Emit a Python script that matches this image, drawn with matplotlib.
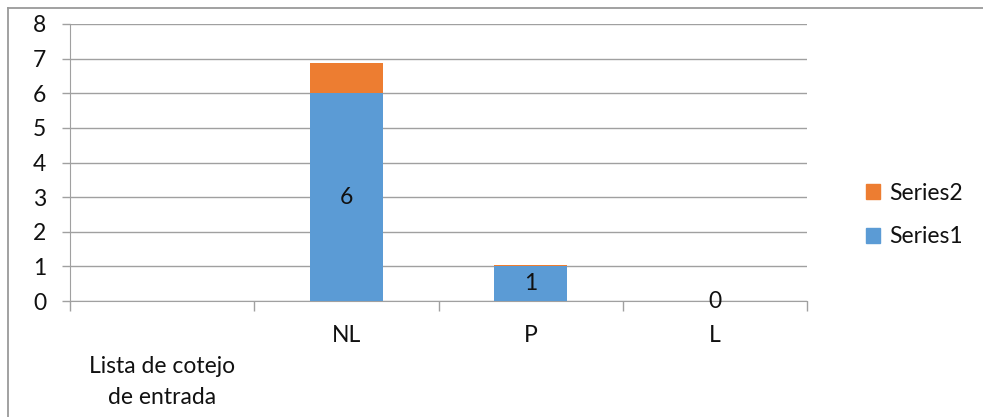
import numpy as np
import matplotlib.pyplot as plt
from matplotlib.lines import Line2D
from matplotlib.patches import Patch

categories = ["\nLista de cotejo\nde entrada", "NL", "P", "L"]
series1 = [np.nan, 6, 1, 0]
series2 = [np.nan, 0.87, 0.03, 0]

blue = "#5B9BD5"
orange = "#ED7D31"
grid_c = "#A0A0A0"
fs = 16.5

plt.rcParams["font.family"] = ["Lato", "DejaVu Sans"]
plt.rcParams["text.color"] = "#111111"
plt.rcParams["xtick.labelcolor"] = "#111111"
plt.rcParams["ytick.labelcolor"] = "#111111"

fig = plt.figure(figsize=(9.83, 4.17), dpi=100)
ax = fig.add_axes([70 / 983, 1 - 301 / 417, (807 - 70) / 983, (301 - 24) / 417])

x = np.arange(len(categories))
s1 = np.nan_to_num(series1)
ax.bar(x, s1, width=0.4, color=blue, zorder=3)
ax.bar(x, np.nan_to_num(series2), width=0.4, bottom=s1, color=orange, zorder=3)

# value labels for Series1, centred in the segment
for xi, v in zip(x, series1):
    if np.isnan(v):
        continue
    ax.text(xi, v / 2, f"{v:g}", ha="center", va="center", fontsize=fs, zorder=4)

ax.set_xlim(-0.5, len(categories) - 0.5)
ax.set_ylim(0, 8)
ax.set_yticks(range(0, 9))
ax.yaxis.grid(True, color=grid_c, lw=1, zorder=0)
ax.tick_params(axis="y", length=6, width=1, color=grid_c, pad=11, labelsize=fs)

ax.set_xticks(np.arange(-0.5, len(categories)), labels=[""] * (len(categories) + 1))
ax.set_xticks(x, labels=categories, minor=True)
ax.tick_params(axis="x", which="major", length=7, width=1, color=grid_c)
ax.tick_params(axis="x", which="minor", length=0, pad=17, labelsize=fs)
for lbl in ax.get_xticklabels(minor=True):
    lbl.set_linespacing(1.6)

for side in ["top", "right"]:
    ax.spines[side].set_visible(False)
for side in ["left", "bottom"]:
    ax.spines[side].set_color(grid_c)

handles = [Patch(color=orange, label="Series2"), Patch(color=blue, label="Series1")]
fig.legend(handles=handles, loc="center left", bbox_to_anchor=(866 / 983, 1 - 215 / 417),
           frameon=False, fontsize=fs, handlelength=0.6, handleheight=0.6,
           handletextpad=0.4, labelspacing=1.0, borderpad=0, borderaxespad=0)

# outer chart border
fig.add_artist(Line2D([7.5 / 983, 1], [1 - 7.5 / 417] * 2, transform=fig.transFigure, color="#9a9a9a", lw=1.3))
fig.add_artist(Line2D([7.5 / 983] * 2, [0, 1 - 7.5 / 417], transform=fig.transFigure, color="#9a9a9a", lw=1.3))

fig.savefig("out.png", dpi=100)
